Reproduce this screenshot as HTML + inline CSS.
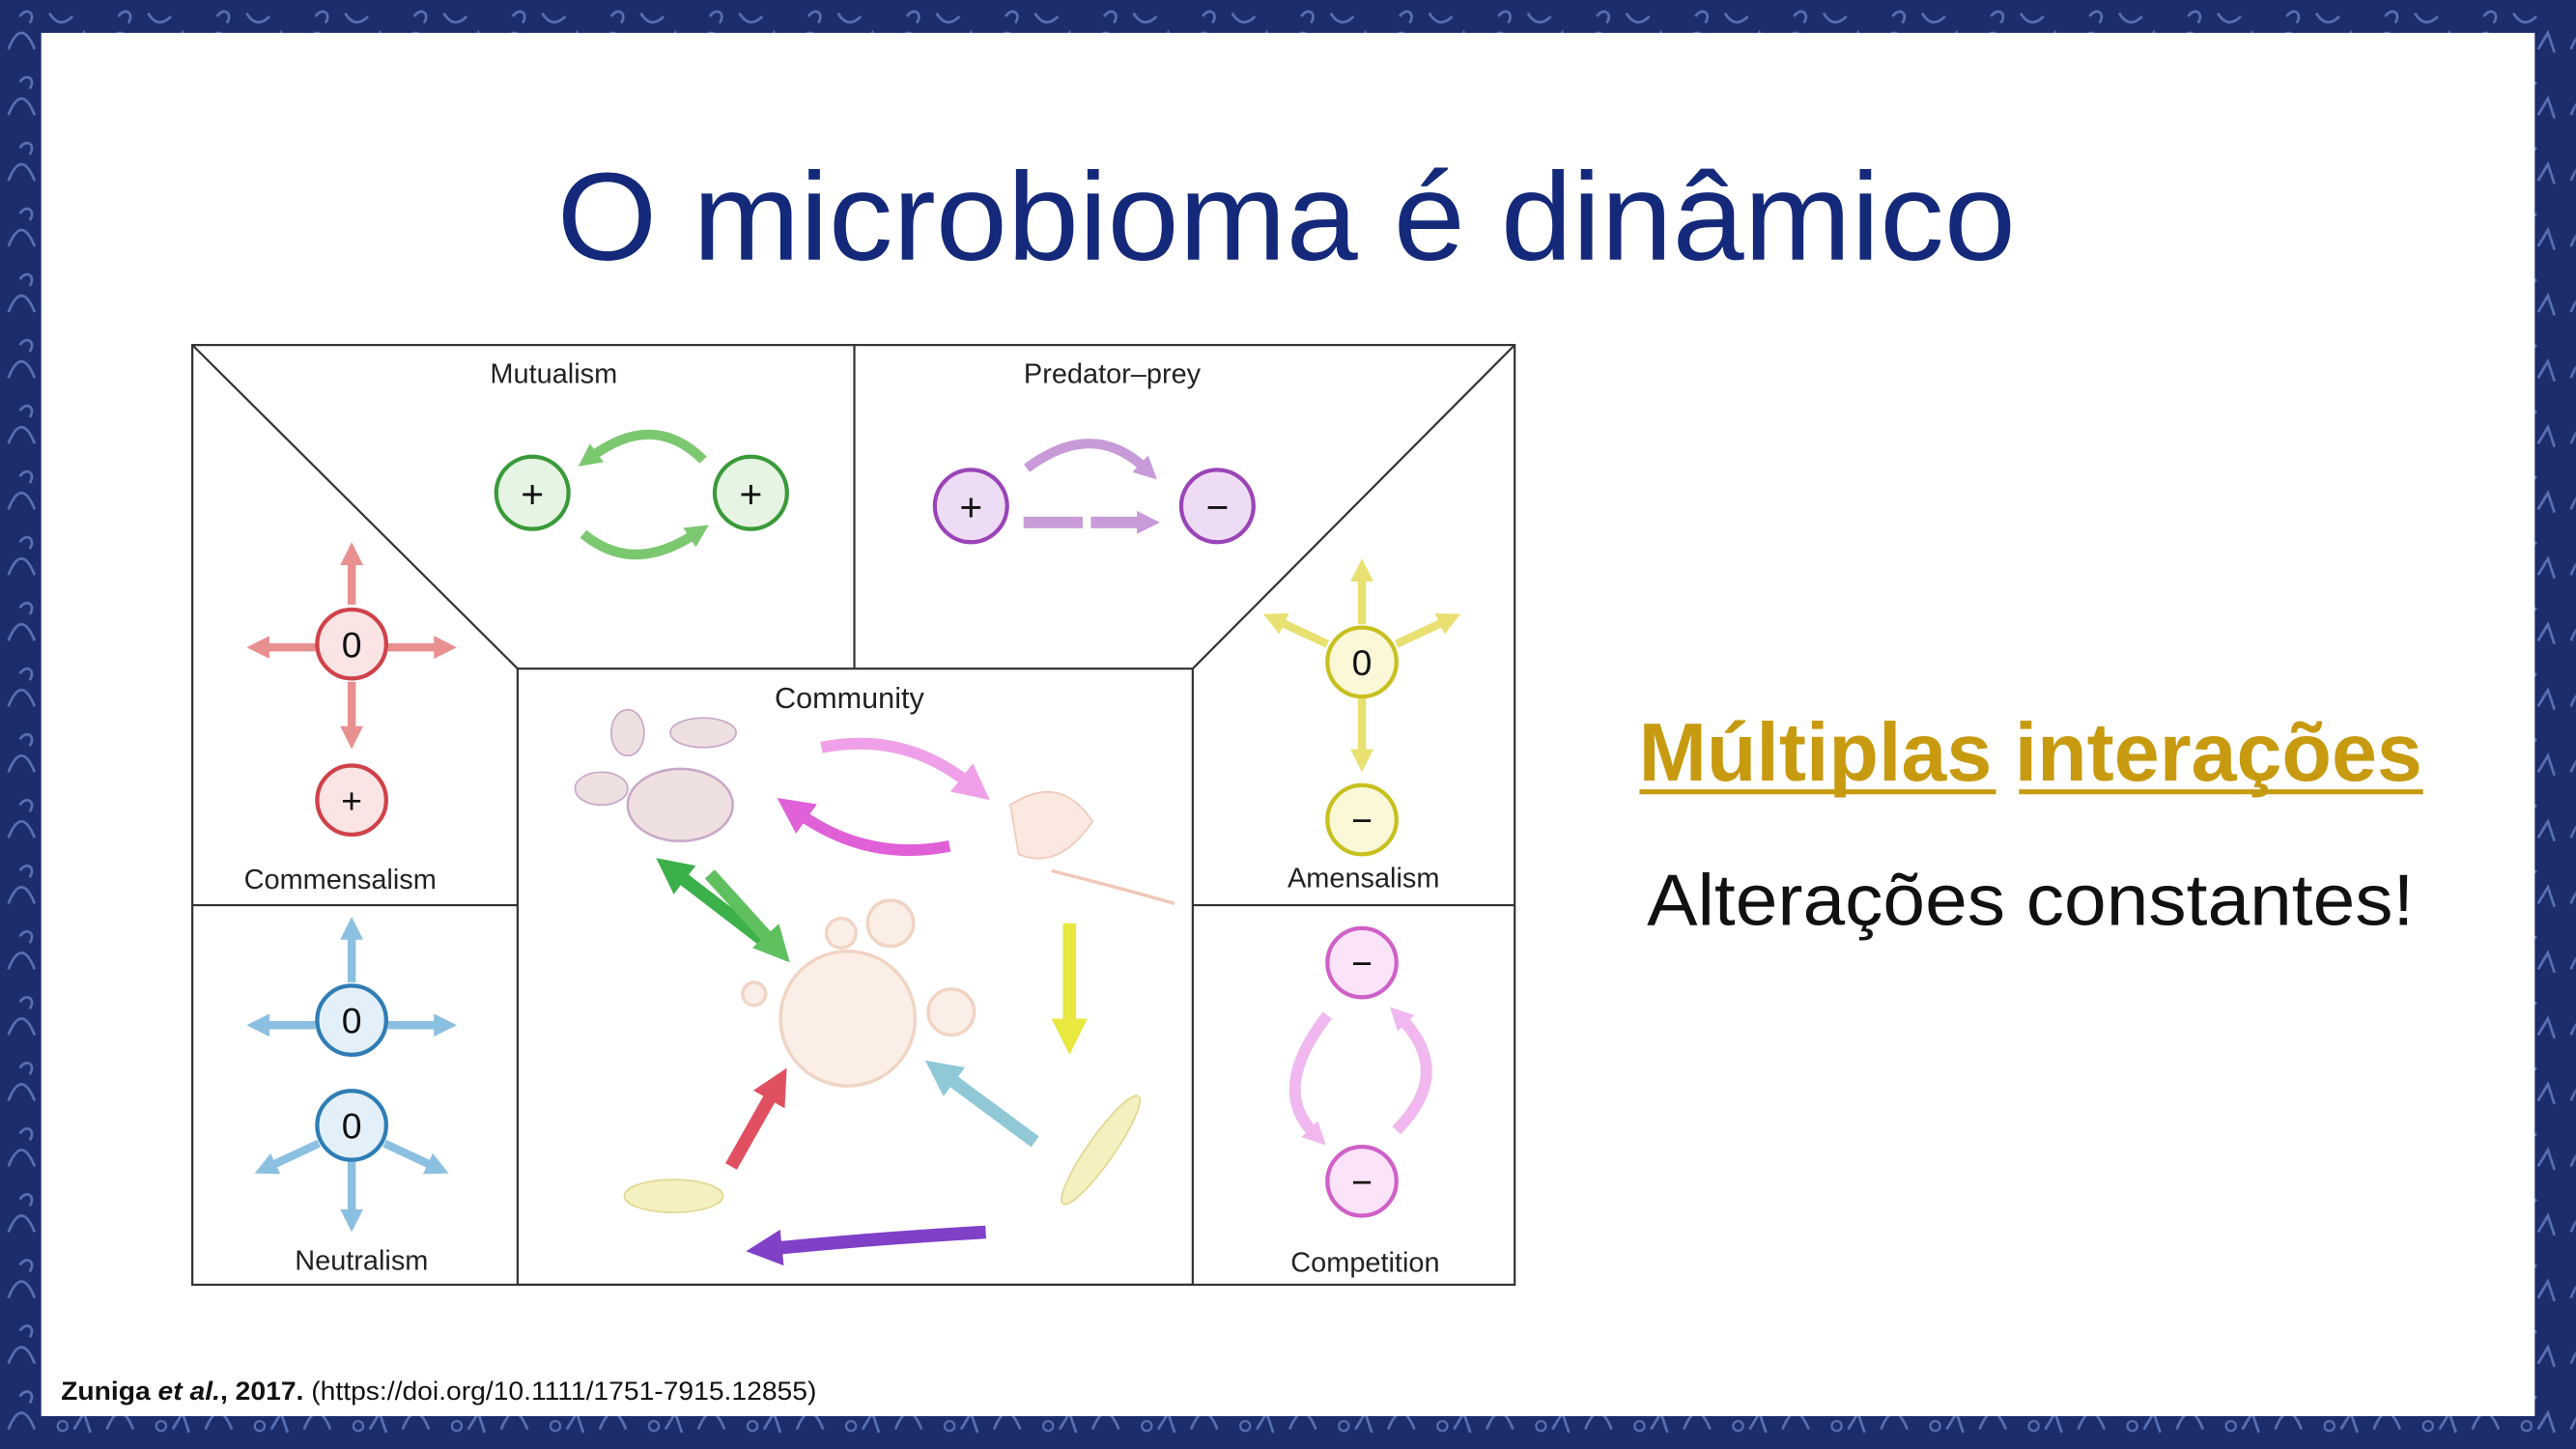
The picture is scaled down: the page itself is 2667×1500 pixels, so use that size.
<!DOCTYPE html>
<html><head><meta charset="utf-8"><style>
html,body{margin:0;padding:0;background:#1b2b6b;}
svg{display:block;}
text{font-family:"Liberation Sans",sans-serif;}
</style></head><body>
<svg width="2667" height="1500" viewBox="0 0 1568 882" xmlns="http://www.w3.org/2000/svg">
<defs>
<pattern id="bp" width="60" height="40" patternUnits="userSpaceOnUse">
<rect width="60" height="40" fill="#1c2c6d"/>
<path d="M5 30 q8 -20 16 0 M30 8 q6 10 14 2 M45 30 l6 -10 l4 12 M12 10 c4 -6 10 -2 6 4" stroke="#5a6fb3" stroke-width="1.6" fill="none"/>
<circle cx="38" cy="28" r="3" stroke="#5a6fb3" stroke-width="1.3" fill="none"/>
</pattern>
<marker id="ah" markerUnits="userSpaceOnUse" markerWidth="16" markerHeight="16" refX="4" refY="8" orient="auto"><path d="M0 1 L14 8 L0 15 z" fill="context-stroke"/></marker>
<marker id="ab" markerUnits="userSpaceOnUse" markerWidth="24" markerHeight="24" refX="6" refY="12" orient="auto"><path d="M0 1 L22 12 L0 23 z" fill="context-stroke"/></marker>
</defs>
<rect width="1568" height="882" fill="url(#bp)"/>
<rect x="25" y="20" width="1518" height="842" fill="#ffffff"/>
<text x="783" y="158" text-anchor="middle" font-size="76" fill="#14297a" textLength="888" lengthAdjust="spacingAndGlyphs">O microbioma é dinâmico</text>

<g stroke="#333" stroke-width="1.3" fill="none">
<rect x="117" y="210" width="805" height="572"/>
<rect x="315" y="407" width="411" height="375"/>
<line x1="117" y1="210" x2="315" y2="407"/><line x1="922" y1="210" x2="726" y2="407"/>
<line x1="520" y1="210" x2="520" y2="407"/>
<line x1="117" y1="551" x2="315" y2="551"/><line x1="726" y1="551" x2="922" y2="551"/>
</g>
<g font-size="17" fill="#222" text-anchor="middle">
<text x="337" y="233">Mutualism</text>
<text x="677" y="233">Predator–prey</text>
<text x="517" y="431" font-size="18">Community</text>
<text x="207" y="541">Commensalism</text>
<text x="830" y="540">Amensalism</text>
<text x="220" y="773">Neutralism</text>
<text x="831" y="774">Competition</text>
</g>

<g font-size="24" text-anchor="middle">
<circle cx="324" cy="300" r="22" fill="#e6f4e3" stroke="#3a9a3a" stroke-width="2.5"/><text x="324" y="309" fill="#111">+</text>
<circle cx="457" cy="300" r="22" fill="#e6f4e3" stroke="#3a9a3a" stroke-width="2.5"/><text x="457" y="309" fill="#111">+</text>
<path d="M428 280 q-30 -30 -68 -2" stroke="#7cc870" stroke-width="6" fill="none" marker-end="url(#ah)"/>
<path d="M355 325 q30 25 68 0" stroke="#7cc870" stroke-width="6" fill="none" marker-end="url(#ah)"/>
</g>
<g font-size="24" text-anchor="middle">
<circle cx="591" cy="308" r="22" fill="#eedcf4" stroke="#9a44b8" stroke-width="2.5"/><text x="591" y="317" fill="#111">+</text>
<circle cx="741" cy="308" r="22" fill="#eedcf4" stroke="#9a44b8" stroke-width="2.5"/><text x="741" y="317" fill="#111">−</text>
<path d="M625 285 q40 -30 72 0" stroke="#c89ad8" stroke-width="6" fill="none" marker-end="url(#ah)"/>
<path d="M623 318 h36 M664 318 h32" stroke="#c89ad8" stroke-width="7" fill="none" marker-end="url(#ah)"/>
</g>
<g font-size="22" text-anchor="middle" stroke="#e89090" stroke-width="5">
<line x1="214" y1="368" x2="214" y2="340" marker-end="url(#ah)"/><line x1="192" y1="394" x2="160" y2="394" marker-end="url(#ah)"/>
<line x1="236" y1="394" x2="268" y2="394" marker-end="url(#ah)"/><line x1="214" y1="415" x2="214" y2="446" marker-end="url(#ah)"/>
<circle cx="214" cy="392" r="21" fill="#fbe4e4" stroke="#d0424a" stroke-width="2.5"/><text x="214" y="400" fill="#111" stroke="none">0</text>
<circle cx="214" cy="487" r="21" fill="#fbe4e4" stroke="#d0424a" stroke-width="2.5"/><text x="214" y="495" fill="#111" stroke="none">+</text>
</g>
<g font-size="22" text-anchor="middle" stroke="#8cc0e0" stroke-width="5">
<line x1="214" y1="598" x2="214" y2="568" marker-end="url(#ah)"/><line x1="192" y1="624" x2="160" y2="624" marker-end="url(#ah)"/>
<line x1="236" y1="624" x2="268" y2="624" marker-end="url(#ah)"/>
<line x1="194" y1="696" x2="164" y2="710" marker-end="url(#ah)"/><line x1="234" y1="696" x2="264" y2="710" marker-end="url(#ah)"/>
<line x1="214" y1="707" x2="214" y2="740" marker-end="url(#ah)"/>
<circle cx="214" cy="621" r="21" fill="#e3f0f9" stroke="#2f7db5" stroke-width="2.5"/><text x="214" y="629" fill="#111" stroke="none">0</text>
<circle cx="214" cy="685" r="21" fill="#e3f0f9" stroke="#2f7db5" stroke-width="2.5"/><text x="214" y="693" fill="#111" stroke="none">0</text>
</g>
<g font-size="22" text-anchor="middle" stroke="#e8e070" stroke-width="5">
<line x1="829" y1="380" x2="829" y2="350" marker-end="url(#ah)"/><line x1="808" y1="392" x2="778" y2="378" marker-end="url(#ah)"/>
<line x1="850" y1="392" x2="880" y2="378" marker-end="url(#ah)"/><line x1="829" y1="425" x2="829" y2="460" marker-end="url(#ah)"/>
<circle cx="829" cy="403" r="21" fill="#fbf8d8" stroke="#c8c020" stroke-width="2.5"/><text x="829" y="411" fill="#111" stroke="none">0</text>
<circle cx="829" cy="499" r="21" fill="#fbf8d8" stroke="#c8c020" stroke-width="2.5"/><text x="829" y="507" fill="#111" stroke="none">−</text>
</g>
<g font-size="22" text-anchor="middle">
<path d="M808 618 q-35 45 -8 72" stroke="#f0b8ee" stroke-width="7" fill="none" marker-end="url(#ah)"/>
<path d="M850 688 q35 -35 3 -68" stroke="#f0b8ee" stroke-width="7" fill="none" marker-end="url(#ah)"/>
<circle cx="829" cy="586" r="21" fill="#fbe4fa" stroke="#d060c8" stroke-width="2.5"/><text x="829" y="594" fill="#111">−</text>
<circle cx="829" cy="719" r="21" fill="#fbe4fa" stroke="#d060c8" stroke-width="2.5"/><text x="829" y="727" fill="#111">−</text>
</g>
<g>
<circle cx="516" cy="620" r="41" fill="#fbeee6" stroke="#f0d4c4" stroke-width="2"/>
<circle cx="542" cy="562" r="14" fill="#fbeee6" stroke="#f0d4c4" stroke-width="2"/>
<circle cx="512" cy="568" r="9" fill="#fbeee6" stroke="#f0d4c4" stroke-width="2"/>
<circle cx="579" cy="616" r="14" fill="#fbeee6" stroke="#f0d4c4" stroke-width="2"/>
<circle cx="459" cy="605" r="7" fill="#fbeee6" stroke="#f0d4c4" stroke-width="2"/>
<ellipse cx="414" cy="490" rx="32" ry="22" fill="#eee0e0" stroke="#c8a8c8" stroke-width="1.5"/>
<ellipse cx="428" cy="446" rx="20" ry="9" fill="#eee0e0" stroke="#c8a8c8"/>
<ellipse cx="382" cy="446" rx="10" ry="14" fill="#eee0e0" stroke="#c8a8c8"/>
<ellipse cx="366" cy="480" rx="16" ry="10" fill="#eee0e0" stroke="#c8a8c8"/>
<path d="M615 490 q30 -20 50 10 q-20 30 -45 20 z" fill="#fbe8e0" stroke="#f0c8b8"/>
<path d="M640 530 q40 10 75 20" stroke="#f0c8b8" stroke-width="2" fill="none"/>
<ellipse cx="670" cy="700" rx="8" ry="40" transform="rotate(35 670 700)" fill="#f4f0c0" stroke="#e0d890"/>
<ellipse cx="410" cy="728" rx="30" ry="10" fill="#f4f0c0" stroke="#e0d890"/>
<path d="M500 455 q50 -10 90 22" stroke="#f0a0e8" stroke-width="7" fill="none" marker-end="url(#ab)"/>
<path d="M578 515 q-50 10 -92 -20" stroke="#e060d8" stroke-width="7" fill="none" marker-end="url(#ab)"/>
<path d="M472 578 l-60 -46" stroke="#3cb04a" stroke-width="8" marker-end="url(#ab)"/>
<path d="M432 532 l38 42" stroke="#60c060" stroke-width="8" marker-end="url(#ab)"/>
<path d="M651 562 v64" stroke="#e8e840" stroke-width="8" marker-end="url(#ab)"/>
<path d="M630 695 l-54 -40" stroke="#90c8d8" stroke-width="8" marker-end="url(#ab)"/>
<path d="M445 710 l26 -46" stroke="#e05060" stroke-width="8" marker-end="url(#ab)"/>
<path d="M600 750 q-70 4 -130 10" stroke="#8040c8" stroke-width="8" fill="none" marker-end="url(#ab)"/>
</g>

<text x="1236" y="475" text-anchor="middle" font-size="50" font-weight="bold" fill="#c79a10" textLength="477" lengthAdjust="spacingAndGlyphs">Múltiplas interações</text>
<line x1="998" y1="482" x2="1215" y2="482" stroke="#c79a10" stroke-width="3"/>
<line x1="1229" y1="482" x2="1475" y2="482" stroke="#c79a10" stroke-width="3"/>
<text x="1236" y="563" text-anchor="middle" font-size="44" fill="#111" textLength="467" lengthAdjust="spacingAndGlyphs">Alterações constantes!</text>
<text x="37" y="852" font-size="16" fill="#111" textLength="460" lengthAdjust="spacingAndGlyphs"><tspan font-weight="bold">Zuniga <tspan font-style="italic">et al.</tspan>, 2017.</tspan> (https://doi.org/10.1111/1751-7915.12855)</text>
</svg>
</body></html>
